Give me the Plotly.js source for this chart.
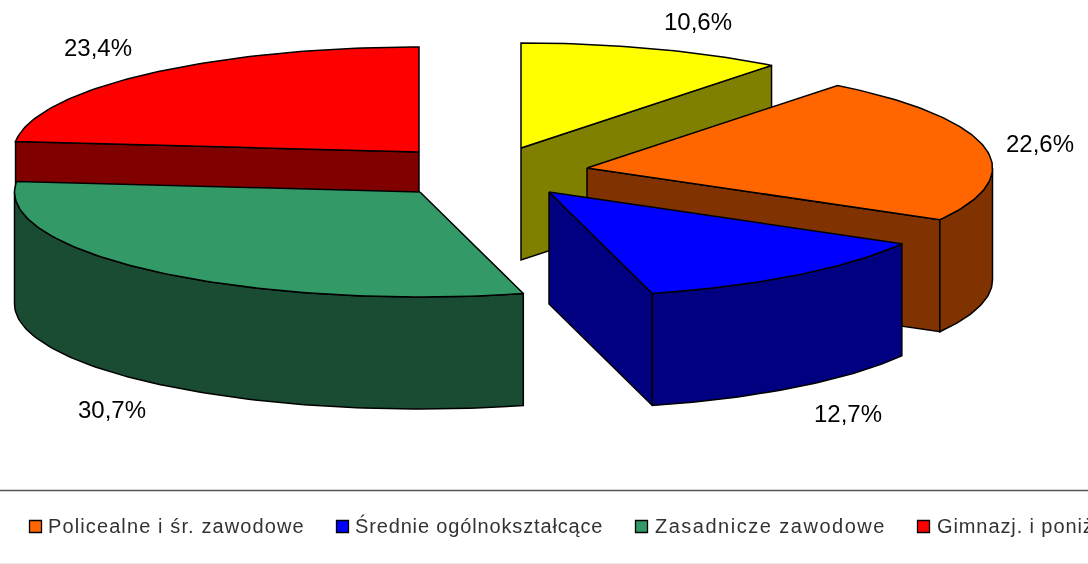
<!DOCTYPE html>
<html>
<head>
<meta charset="utf-8">
<script src="https://cdn.plot.ly/plotly-3.0.1.min.js"></script>
<style>
html,body{margin:0;padding:0;background:#fff;overflow:hidden}
#chart{width:1088px;height:564px;filter:blur(0.45px)}
#chart .scatterlayer .trace:last-child .textpoint:nth-child(1) text{letter-spacing:1.11px}
#chart .scatterlayer .trace:last-child .textpoint:nth-child(2) text{letter-spacing:0.85px}
#chart .scatterlayer .trace:last-child .textpoint:nth-child(3) text{letter-spacing:1.5px}
#chart .scatterlayer .trace:last-child .textpoint:nth-child(4) text{letter-spacing:0.9px}
</style>
</head>
<body>
<div id="chart"></div>
<script>
// ---- data: the slices run counter-clockwise from 12 o'clock
var sliceValues = [23.4, 30.7, 12.7, 22.6, 10.6];
var topColors  = ['#FF0000', '#339966', '#0000FF', '#FF6600', '#FFFF00'];
var wallColors = ['#800000', '#1A4C33', '#000080', '#803300', '#808000'];
var legendNames  = ['Policealne i śr. zawodowe', 'Średnie ogólnokształcące', 'Zasadnicze zawodowe', 'Gimnazj. i poniżej'];
var legendColors = ['#FF6600', '#0000FF', '#339966', '#FF0000'];

// ---- drawing geometry of the exploded 3-D pie
var radiusX = 405.5, radiusY = 105, depth = 112;
var apexX = [419, 420, 549, 587, 521];
var apexY = [152, 192, 192, 168, 148];
var labelX = [98, 112, 848, 1040, 698];
var labelY = [49.5, 411.5, 415.5, 145.5, 23.5];
var legendSquareX = [35.5, 342.5, 641.5, 923.5];
var legendTextX = [48, 355, 655, 937];
var legendY = 526.5;
var legendTextY = 527.5;
var paintOrder = [4, 3, 2, 0, 1];

function px(i, deg) { return apexX[i] - radiusX * Math.sin(deg * Math.PI / 180); }
function py(i, deg) { return apexY[i] - radiusY * Math.cos(deg * Math.PI / 180); }
function poly(xs, ys, fill) {
  return {type: 'scatter', mode: 'lines', x: xs.concat([xs[0]]), y: ys.concat([ys[0]]),
    fill: 'toself', fillcolor: fill, line: {color: '#000', width: 1.5}, hoverinfo: 'skip', showlegend: false};
}
function arcRange(a, b) { var r = [], d; for (d = a; d < b; d += 1) r.push(d); r.push(b); return r; }

var starts = [], cum = 0;
sliceValues.forEach(function (v) { starts.push(cum); cum += v * 3.6; });

var traces = [];
paintOrder.forEach(function (i) {
  var a = starts[i], b = a + sliceValues[i] * 3.6;
  var radial = function (deg) {
    traces.push(poly([apexX[i], px(i, deg), px(i, deg), apexX[i]],
                     [apexY[i], py(i, deg), py(i, deg) + depth, apexY[i] + depth], wallColors[i]));
  };
  // only the walls that face the viewer
  if (Math.sin(a * Math.PI / 180) < -0.001) radial(a);
  if (Math.sin(b * Math.PI / 180) > 0.001) radial(b);
  var fa = Math.max(a, 90), fb = Math.min(b, 270);
  if (fb > fa) {
    var arc = arcRange(fa, fb);
    var xt = arc.map(function (d) { return px(i, d); });
    var yt = arc.map(function (d) { return py(i, d); });
    var yb = yt.map(function (y) { return y + depth; });
    traces.push(poly(xt.concat(xt.slice().reverse()), yt.concat(yb.reverse()), wallColors[i]));
  }
  var top = arcRange(a, b);
  traces.push(poly([apexX[i]].concat(top.map(function (d) { return px(i, d); })),
                   [apexY[i]].concat(top.map(function (d) { return py(i, d); })), topColors[i]));
});

// percentage labels
traces.push({type: 'scatter', mode: 'text', x: labelX, y: labelY,
  text: sliceValues.map(function (v) { return v.toFixed(1).replace('.', ',') + '%'; }),
  textposition: 'middle center', cliponaxis: false, hoverinfo: 'skip', showlegend: false,
  textfont: {family: 'Liberation Sans, Arial, sans-serif', size: 24, color: '#000'}});
// legend
traces.push({type: 'scatter', mode: 'markers', x: legendSquareX, y: legendNames.map(function () { return legendY; }),
  marker: {symbol: 'square', size: 12, color: legendColors, line: {color: '#000', width: 1.3}},
  hoverinfo: 'skip', showlegend: false});
traces.push({type: 'scatter', mode: 'text', x: legendTextX, y: legendNames.map(function () { return legendTextY; }),
  text: legendNames, textposition: 'middle right', cliponaxis: false, hoverinfo: 'skip', showlegend: false,
  textfont: {family: 'Liberation Sans, Arial, sans-serif', size: 20, color: '#333'}});

var layout = {
  width: 1088, height: 564, margin: {l: 0, r: 0, t: 0, b: 0},
  paper_bgcolor: '#fff', plot_bgcolor: '#fff', showlegend: false,
  xaxis: {range: [0, 1088], visible: false, fixedrange: true},
  yaxis: {range: [564, 0], visible: false, fixedrange: true},
  shapes: [
    {type: 'line', xref: 'paper', x0: 0, x1: 1, yref: 'y', y0: 490.5, y1: 490.5, line: {color: '#555', width: 1.5}},
    {type: 'line', xref: 'paper', x0: 0, x1: 1, yref: 'y', y0: 563.5, y1: 563.5, line: {color: '#e8e8e8', width: 1}}
  ]
};
Plotly.newPlot('chart', traces, layout, {displayModeBar: false, staticPlot: true});
</script>
</body>
</html>
